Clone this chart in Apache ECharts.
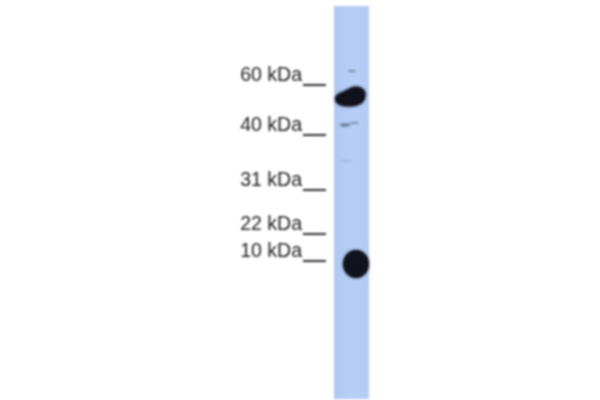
<!DOCTYPE html>
<html><head><meta charset="utf-8">
<style>html,body{margin:0;background:#fff}#c{width:600px;height:400px;filter:blur(0.9px)}</style>
<script src="https://cdn.jsdelivr.net/npm/echarts@6/dist/echarts.min.js"></script>
</head><body><div id="c"></div>
<script>
// ladder
const markerLabels = ['60 kDa','40 kDa','31 kDa','22 kDa','10 kDa'];
const markerY = [85,135,190,234,261];
// lane extents
const laneX = [334,369];
const laneY = [6,399];
// bands: centre x, centre y, width, height, intensity (0-1)
const bandX = [349,356,356,345,354,347,352,356,344,353];
const bandY = [99,94,264,125,123,161,71,265,99,97];
const bandW = [28,19,26,11,10,12,8,16,16,24];
const bandH = [15,15,28,3,2,1.5,2.5,18,13,17];
const bandI = [1,1,1,0.4,0.3,0.14,0.28,1,1,1];

const chart = echarts.init(document.getElementById('c'),null,{renderer:'canvas'});
const font = '"Liberation Sans",Arial,sans-serif';
chart.setOption({
  animation:false,
  backgroundColor:'#fff',
  grid:{left:0,top:0,width:600,height:400},
  xAxis:{type:'value',min:0,max:600,show:false},
  yAxis:{type:'value',min:0,max:400,inverse:true,show:false},
  series:[
    {type:'custom',coordinateSystem:'cartesian2d',silent:true,z:1,
     data:[[laneX[0],laneY[0],laneX[1],laneY[1]]],
     renderItem:(p,api)=>{
       const a=api.coord([api.value(0),api.value(1)]),b=api.coord([api.value(2),api.value(3)]);
       return {type:'rect',shape:{x:a[0],y:a[1],width:b[0]-a[0],height:b[1]-a[1]},
        style:{fill:new echarts.graphic.LinearGradient(0,0,1,0,[
          {offset:0,color:'#adc8f3'},{offset:0.5,color:'#b7cff6'},{offset:1,color:'#b3ccf5'}])}};
     }},
    {type:'custom',coordinateSystem:'cartesian2d',silent:true,z:2,
     data:bandX.map((x,i)=>[x,bandY[i],bandW[i],bandH[i],bandI[i]]),
     renderItem:(p,api)=>{
       const c=api.coord([api.value(0),api.value(1)]),s=api.size([api.value(2),api.value(3)]);
       const o=api.value(4);
       return {type:'ellipse',shape:{cx:c[0],cy:c[1],rx:s[0]/2,ry:s[1]/2},
        style:{fill:`rgba(16,17,26,${o})`,shadowBlur:3,shadowColor:`rgba(30,35,60,${o*0.8})`}};
     }},
    {type:'scatter',z:3,silent:true,symbol:'rect',symbolSize:[23,2],
     itemStyle:{color:'#2c2c2c',opacity:1},
     data:markerLabels.map((n,i)=>({name:n,value:[314.5,markerY[i]]})),
     label:{show:true,position:'left',distance:1,offset:[0,-9],formatter:'{b}',
       fontFamily:font,fontSize:19.5,color:'#1c1c1c'}}
  ]
});
</script></body></html>
